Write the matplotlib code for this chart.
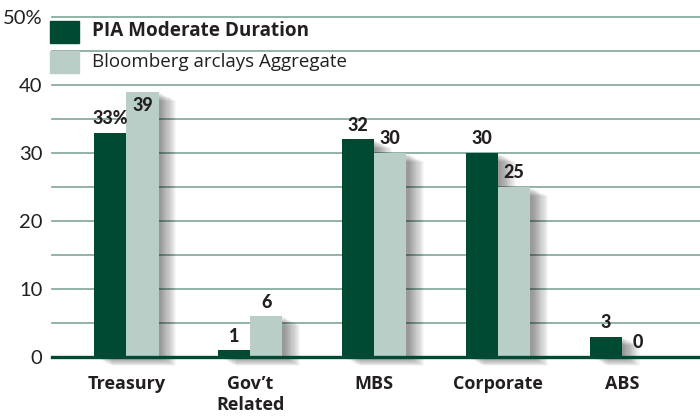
import matplotlib.pyplot as plt
import matplotlib.patheffects as pe
from matplotlib.patches import Rectangle
import numpy as np

categories = ['Treasury', 'Gov\u2019t\nRelated', 'MBS', 'Corporate', 'ABS']
pia = [33, 1, 32, 30, 3]
bench = [39, 6, 30, 25, 0]
pia_labels = ['33%', '1', '32', '30', '3']
bench_labels = ['39', '6', '30', '25', '0']
yticks = [0, 10, 20, 30, 40, 50]
ytick_labels = ['0', '10', '20', '30', '40', '50%']

DARK = '#004a34'
LIGHT = '#b8cec7'
GRID = '#7ea595'
TXT = '#231f20'

narrow = ['Lato', 'DejaVu Sans']
sans = ['Open Sans', 'DejaVu Sans']

W, H = 700, 418
fig = plt.figure(figsize=(W / 100, H / 100), dpi=100)
ax = fig.add_axes([52 / W, 1 - 357 / H, 648 / W, 342 / H])

x = np.arange(len(categories))
w = 0.26

# soft drop shadow for bars
shadow = [pe.SimplePatchShadow(offset=(k * 0.8, -k * 0.4), shadow_rgbFace='k', alpha=0.03)
          for k in range(2, 17)] + [pe.Normal()]

b1 = ax.bar(x - w / 2, pia, w, color=DARK, zorder=3, clip_on=False)
b2 = ax.bar(x + w / 2, bench, w, color=LIGHT, zorder=3, clip_on=False)
for b in list(b1) + list(b2):
    b.set_path_effects(shadow)

ax.set_ylim(0, 50.3)
ax.set_xlim(-0.6, 4.63)

for v in range(5, 55, 5):
    ax.axhline(v, color=GRID, lw=1.2, zorder=1, clip_on=False)
ax.axhline(0, color=DARK, lw=2.4, zorder=5, clip_on=False)

for s in ax.spines.values():
    s.set_visible(False)

ax.set_yticks(yticks)
ax.set_yticklabels(ytick_labels, family=narrow, fontsize=14.5, color=TXT)
ax.set_xticks(x)
ax.set_xticklabels(categories, family=sans, fontsize=13, fontweight='bold',
                   color=TXT, linespacing=1.2)
ax.tick_params(axis='both', length=0)
ax.tick_params(axis='y', pad=7)
ax.tick_params(axis='x', pad=13)

# value labels
for xi, v, lab in zip(x, pia, pia_labels):
    ax.annotate(lab, (xi - w / 2, v), xytext=(0, 4), textcoords='offset points',
                ha='center', va='bottom', family=narrow, fontsize=13,
                fontweight='black', color=TXT, zorder=6)
for xi, v, lab in zip(x, bench, bench_labels):
    dy = -16 if v > 35 else 4
    ax.annotate(lab, (xi + w / 2, v), xytext=(0, dy), textcoords='offset points',
                ha='center', va='bottom', family=narrow, fontsize=13,
                fontweight='black', color=TXT, zorder=6)

# legend drawn by hand
fig.patches.append(Rectangle((50 / W, 1 - 43 / H), 29 / W, 22 / H,
                             transform=fig.transFigure, color=DARK, zorder=10))
fig.patches.append(Rectangle((50 / W, 1 - 73 / H), 29 / W, 22 / H,
                             transform=fig.transFigure, color=LIGHT, zorder=10))
fig.text(92 / W, 1 - 31 / H, 'PIA Moderate Duration', family=sans, fontsize=13.6,
         fontweight='bold', color=TXT, va='center', ha='left')
fig.text(92 / W, 1 - 62 / H, 'Bloomberg arclays Aggregate', family=sans, fontsize=13.5,
         color=TXT, va='center', ha='left')

fig.savefig('out.png', dpi=100)
